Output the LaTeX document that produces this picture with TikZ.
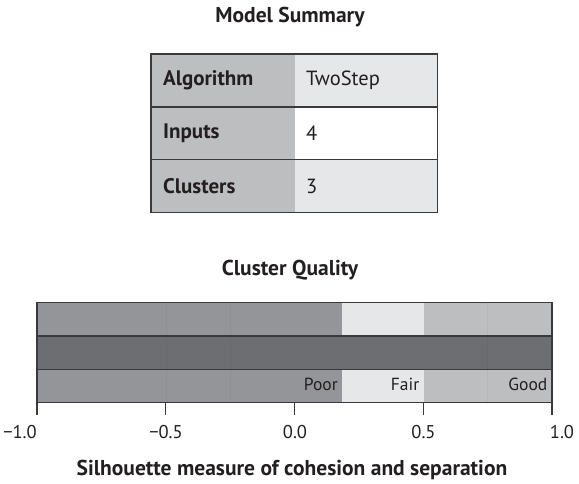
\documentclass[tikz,border=0pt]{standalone}
\usepackage{fontspec}
\setmainfont{PT Sans}
\begin{document}
\begin{tikzpicture}[x=1pt,y=-1pt,
  txt/.style={inner sep=0pt, text=ink},
  celltxt/.style={txt, anchor=west, font=\fontsize{20.5}{24}\selectfont},
  headtxt/.style={celltxt, font=\fontsize{21}{24}\selectfont\bfseries},
  titletxt/.style={txt, font=\fontsize{21.5}{25}\selectfont\bfseries},
  ticktxt/.style={txt, font=\fontsize{18.5}{22}\selectfont},
  bandtxt/.style={txt, anchor=east, font=\fontsize{17.5}{20}\selectfont},
  frame/.style={draw=framec, line width=1.3pt},
  grid/.style={draw=black, draw opacity=0.04, line width=0.5pt}
]
\definecolor{ink}{HTML}{231F20}
\definecolor{framec}{HTML}{3A3A3C}
\definecolor{colA}{HTML}{BCBEC0}
\definecolor{colB}{HTML}{E6E7E8}
\definecolor{poorc}{HTML}{939598}
\definecolor{midc}{HTML}{6D6E71}

\useasboundingbox (0,0) rectangle (579,483);
\fill[white] (0,0) rectangle (579,483);

% ---------- Model summary table ----------
\node[titletxt] (t1) at (290,17) {Model Summary};

\fill[colA] (151,54) rectangle (294.5,212.5);
\fill[colB] (294.5,54) rectangle (437.5,107);
\fill[white] (294.5,107) rectangle (437.5,159.5);
\fill[colB] (294.5,159.5) rectangle (437.5,212.5);
\draw[frame] (151,54) rectangle (437.5,212.5);
\draw[frame] (151,107) -- (437.5,107);
\draw[frame] (151,159.5) -- (437.5,159.5);

\node[headtxt] (k1) at (163,80.5) {Algorithm};
\node[headtxt] (k2) at (163,133) {Inputs};
\node[headtxt] (k3) at (163,186) {Clusters};
\node[celltxt] (v1) at (306,80.5) {TwoStep};
\node[celltxt] (v2) at (306,133) {4};
\node[celltxt] (v3) at (306,186) {3};

% ---------- Cluster quality bar ----------
\node[titletxt] (t2) at (290,270) {Cluster Quality};

% x = 294.5 + 257.5 * s  (silhouette s from -1 to 1)
\fill[poorc] (37,302.5) rectangle (342,336);
\fill[colB] (342,302.5) rectangle (423.75,336);
\fill[colA] (423.75,302.5) rectangle (552,336);
\fill[midc] (37,336) rectangle (552,369.5);
\fill[poorc] (37,369.5) rectangle (342,402.5);
\fill[colB] (342,369.5) rectangle (423.75,402.5);
\fill[colA] (423.75,369.5) rectangle (552,402.5);

\foreach \gx in {165.75,230.1,487.6}
  \draw[grid] (\gx,302.5) -- (\gx,402.5);

\draw[frame] (37,302.5) rectangle (552,402.5);
\draw[frame] (37,336) -- (552,336);
\draw[frame] (37,369.5) -- (552,369.5);

\node[bandtxt] (poor) at (338,384) {Poor};
\node[bandtxt] (fair) at (419.5,384) {Fair};
\node[bandtxt] (good) at (547.5,384) {Good};

% axis ticks and labels
\foreach \tx/\lx/\lab [count=\i] in {37/20/{−1.0},165.75/166/{−0.5},294.5/295/{0.0},423.25/423.5/{0.5},552/562/{1.0}}{
  \coordinate (tk\i) at (\tx,402.5);
  \coordinate (te\i) at (\tx,415);
  \draw[draw=framec, line width=1.1pt] (tk\i) -- (te\i);
  \node[ticktxt] (lab\i) at (\lx,432) {\lab};
}

\node[titletxt] (xt) at (292,470) {Silhouette measure of cohesion and separation};
\end{tikzpicture}
\end{document}
